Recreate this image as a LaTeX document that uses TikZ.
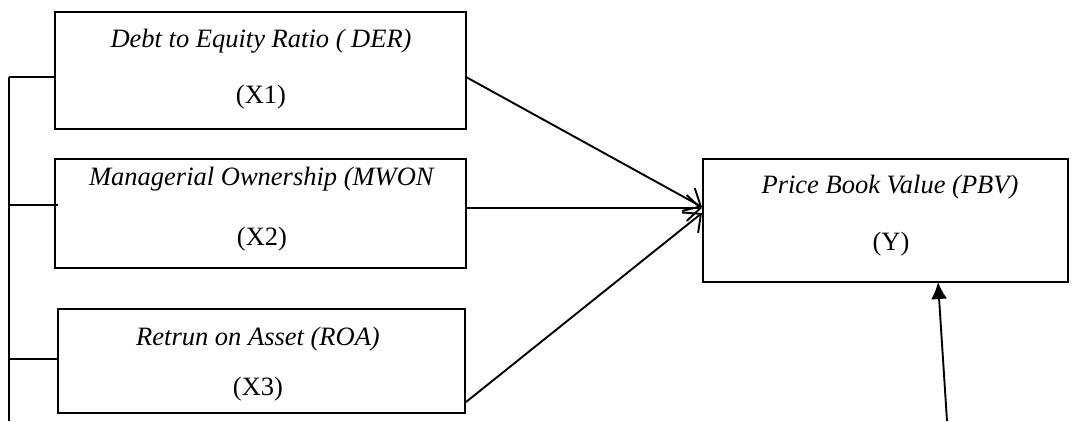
\documentclass[tikz,border=0pt]{standalone}
\usepackage{fontspec}
\setmainfont{Liberation Serif}
\usetikzlibrary{arrows.meta}
\begin{document}
\begin{tikzpicture}[x=1pt,y=-1pt,
  box/.style={draw,line width=2.6pt,rectangle,inner sep=0pt},
  lbl/.style={anchor=base,inner sep=0pt,font=\fontsize{26.5}{30}\selectfont},
  conn/.style={line width=1.9pt},
  barb/.style={conn,-{Straight Barb[length=14pt,width=26pt,line width=1.9pt]}},
  tri/.style={conn,-{Latex[length=17pt,width=16pt]}}]
\useasboundingbox (0,0) rectangle (1073,421);
% boxes
\node[box,minimum width=411pt,minimum height=117pt] (b1) at (260.5,70.5) {};
\node[box,minimum width=411pt,minimum height=109pt] (b2) at (260.5,213.5) {};
\node[box,minimum width=407pt,minimum height=104pt] (b3) at (261.5,361) {};
\node[box,minimum width=365pt,minimum height=123pt] (by) at (885.5,220.5) {};
% texts
\node[lbl] (t1a) at (261,47) {\textit{Debt to Equity Ratio ( DER)}};
\node[lbl] (t1b) at (261,103) {(X1)};
\node[lbl] (t2a) at (262,185) {\textit{Managerial Ownership (MWON}};
\node[lbl] (t2b) at (262,245) {(X2)};
\node[lbl] (t3a) at (258,345) {\textit{Retrun on Asset (ROA)}};
\node[lbl] (t3b) at (258,395) {(X3)};
\node[lbl] (tya) at (890,193) {\textit{Price Book Value (PBV)}};
\node[lbl] (tyb) at (891,250) {(Y)};
% left bracket
\coordinate (l1) at (9,77);
\coordinate (l2) at (9,205);
\coordinate (l3) at (9,359);
\coordinate (lb) at (9,421);
\coordinate (e2) at (58,205);
\draw[conn] (l1) -- (lb);
\draw[conn] (l1) -- (b1.west |- l1);
\draw[conn] (l2) -- (e2);
\draw[conn] (l3) -- (b3.west |- l3);
% arrows
\coordinate (s1) at (466,77);
\coordinate (s3) at (466,402);
\coordinate (ya) at (702,207);
\coordinate (yb) at (702,208);
\coordinate (yc) at (702,213);
\draw[barb] (s1) -- (ya);
\draw[barb] (b2.east |- yb) -- (yb);
\draw[barb] (s3) -- (yc);
\coordinate (src) at (947,421);
\coordinate (ytgt) at (938,282);
\draw[tri] (src) -- (ytgt);
\end{tikzpicture}
\end{document}
